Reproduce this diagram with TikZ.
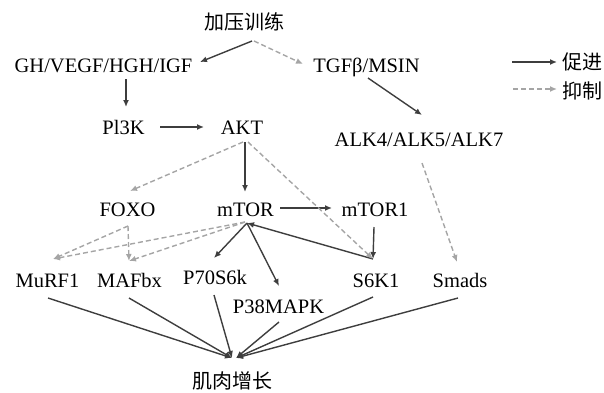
\documentclass[tikz,border=0pt]{standalone}
\usepackage{fontspec}
\setmainfont{Liberation Serif}
\newfontfamily\cjk{Noto Sans CJK SC}
\usetikzlibrary{arrows.meta}
\definecolor{solidc}{RGB}{62,62,62}
\definecolor{dashc}{RGB}{165,165,165}
\begin{document}
\begin{tikzpicture}[x=1pt,y=-1pt,
  lbl/.style={inner sep=0pt, text height=14pt, text depth=0pt, font=\fontsize{20.5}{24}\selectfont},
  zh/.style={inner sep=0pt, text height=17pt, text depth=3pt, font=\cjk\fontsize{20}{24}\selectfont},
  pro/.style={draw=solidc, line width=1.4pt, -{Latex[length=7pt,width=6pt]}},
  inh/.style={draw=dashc, line width=1.4pt, dash pattern=on 5pt off 3pt, -{Latex[length=7pt,width=6pt]}}]
\useasboundingbox (0,0) rectangle (604,392);

% nodes
\node[zh]  (train)  at (244,22.5) {加压训练};
\node[lbl] (gh)     at (103.5,65.5) {GH/VEGF/HGH/IGF};
\node[lbl] (tgf)    at (366.5,65) {TGFβ/MSIN};
\node[lbl] (pi3k)   at (123.5,127.5) {Pl3K};
\node[lbl] (akt)    at (242,127.5) {AKT};
\node[lbl] (alk)    at (419,139.5) {ALK4/ALK5/ALK7};
\node[lbl] (foxo)   at (127.5,209.5) {FOXO};
\node[lbl] (mtor)   at (245.5,209) {mTOR};
\node[lbl] (mtor1)  at (375,209.5) {mTOR1};
\node[lbl] (murf)   at (47.5,280.5) {MuRF1};
\node[lbl] (mafbx)  at (129.5,280.5) {MAFbx};
\node[lbl] (p70)    at (215,277) {P70S6k};
\node[lbl] (p38)    at (278.5,306.5) {P38MAPK};
\node[lbl] (s6k1)   at (376,280) {S6K1};
\node[lbl] (smads)  at (460,280.5) {Smads};
\node[zh]  (growth) at (232.5,381.5) {肌肉增长};
\node[zh]  (lp)     at (582.5,62.5) {促进};
\node[zh]  (li)     at (582.5,91) {抑制};

% ports
\coordinate (train-sw) at (252,41);
\coordinate (train-se) at (254,41);
\coordinate (gh-e)     at (200,62);
\coordinate (tgf-w)    at (303,64);
\coordinate (gh-s)     at (126,79);
\coordinate (pi3k-n)   at (126,107);
\coordinate (pi3k-e)   at (160,127);
\coordinate (akt-w)    at (204,127);
\coordinate (akt-s)    at (245,142);
\coordinate (akt-sw)   at (243,142);
\coordinate (akt-se)   at (248,142);
\coordinate (mtor-n)   at (245,192);
\coordinate (foxo-n)   at (130,191);
\coordinate (tgf-se)   at (368,78);
\coordinate (alk-n)    at (422,115);
\coordinate (alk-s)    at (422,163);
\coordinate (smads-n)  at (457,262);
\coordinate (mtor-e)   at (280,208);
\coordinate (mtor1-w)  at (332,208);
\coordinate (mtor1-s)  at (374,227);
\coordinate (s6k1-n)   at (373,259);
\coordinate (mtor-s)   at (247,223);
\coordinate (mtor-sd)  at (245,222);
\coordinate (p70-n)    at (214,258);
\coordinate (p38-n)    at (279,286);
\coordinate (murf-n)   at (53,259);
\coordinate (mafbx-n)  at (129,261);
\coordinate (foxo-s)   at (128,226);
\coordinate (murf-s)   at (48,298);
\coordinate (mafbx-s)  at (129,298);
\coordinate (p70-s)    at (214,295);
\coordinate (p38-s)    at (279,322);
\coordinate (s6k1-s)   at (373,297);
\coordinate (smads-s)  at (458,298);
\coordinate (growth-nl) at (232,358);
\coordinate (growth-nr) at (236,358);
\coordinate (lpa) at (512,62);
\coordinate (lpb) at (557,62);
\coordinate (lia) at (513,89);
\coordinate (lib) at (557,89);

% promoting
\draw[pro] (train-sw) -- (gh-e);
\draw[pro] (gh-s) -- (pi3k-n);
\draw[pro] (pi3k-e) -- (akt-w);
\draw[pro] (akt-s) -- (mtor-n);
\draw[pro] (tgf-se) -- (alk-n);
\draw[pro] (mtor-e) -- (mtor1-w);
\draw[pro] (mtor1-s) -- (s6k1-n);
\draw[pro] (s6k1-n) -- (mtor-s);
\draw[pro] (mtor-s) -- (p70-n);
\draw[pro] (mtor-s) -- (p38-n);
\draw[pro] (murf-s) -- (growth-nl);
\draw[pro] (mafbx-s) -- (growth-nl);
\draw[pro] (p70-s) -- (growth-nl);
\draw[pro] (p38-s) -- (growth-nr);
\draw[pro] (s6k1-s) -- (growth-nr);
\draw[pro] (smads-s) -- (growth-nr);
\draw[pro] (lpa) -- (lpb);

% inhibiting
\draw[inh] (train-se) -- (tgf-w);
\draw[inh] (akt-sw) -- (foxo-n);
\draw[inh] (akt-se) -- (s6k1-n);
\draw[inh] (alk-s) -- (smads-n);
\draw[inh] (mtor-sd) -- (murf-n);
\draw[inh] (mtor-sd) -- (mafbx-n);
\draw[inh] (foxo-s) -- (murf-n);
\draw[inh] (foxo-s) -- (mafbx-n);
\draw[inh] (lia) -- (lib);
\end{tikzpicture}
\end{document}
